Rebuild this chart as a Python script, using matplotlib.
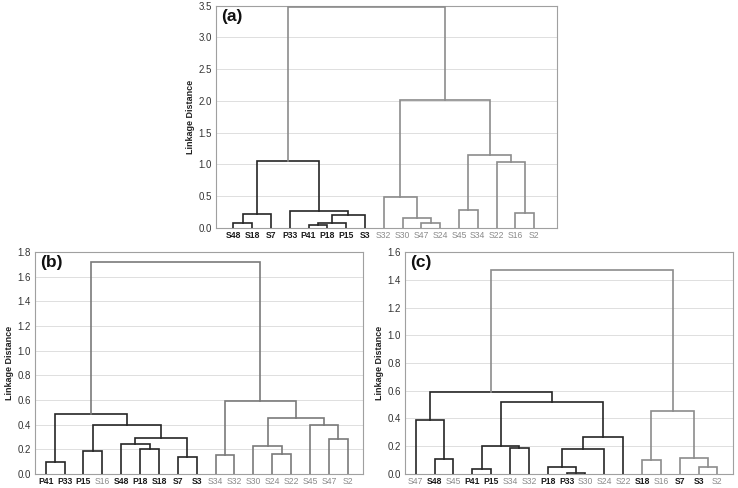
import matplotlib
matplotlib.use('Agg')
import matplotlib.pyplot as plt
import numpy as np

plt.rcParams['font.family'] = ['Liberation Sans', 'DejaVu Sans']

# ── Colours ──
DARK = '#262626'
GREY = '#8c8c8c'
GREY_B = '#7a7a7a'

# ── Panel (a) ──
leaves_a = ['S48', 'S18', 'S7', 'P33', 'P41', 'P18', 'P15', 'S3',
            'S32', 'S30', 'S47', 'S24', 'S45', 'S34', 'S22', 'S16', 'S2']
bold_a = ['S48', 'S18', 'S7', 'P33', 'P41', 'P18', 'P15', 'S3']
# (child, child, height, group) ; int child = earlier merge index
merges_a = [
    ('S48', 'S18', 0.07, 'k'),
    (0, 'S7', 0.22, 'k'),
    ('P41', 'P18', 0.035, 'k'),
    (2, 'P15', 0.08, 'k'),
    (3, 'S3', 0.20, 'k'),
    ('P33', 4, 0.26, 'k'),
    (1, 5, 1.05, 'k'),
    ('S47', 'S24', 0.08, 'g'),
    ('S30', 7, 0.16, 'g'),
    ('S32', 8, 0.48, 'g'),
    ('S45', 'S34', 0.28, 'g'),
    ('S16', 'S2', 0.23, 'g'),
    ('S22', 11, 1.03, 'g'),
    (10, 12, 1.14, 'g'),
    (9, 13, 2.02, 'g'),
    (6, 14, 3.48, 'g'),
]
yticks_a = [0.0, 0.5, 1.0, 1.5, 2.0, 2.5, 3.0, 3.5]

# ── Panel (b) ──
leaves_b = ['P41', 'P33', 'P15', 'S16', 'S48', 'P18', 'S18', 'S7', 'S3',
            'S34', 'S32', 'S30', 'S24', 'S22', 'S45', 'S47', 'S2']
bold_b = ['P41', 'P33', 'P15', 'S48', 'P18', 'S18', 'S7', 'S3']
merges_b = [
    ('P41', 'P33', 0.10, 'k'),
    ('P15', 'S16', 0.19, 'k'),
    ('P18', 'S18', 0.20, 'k'),
    ('S48', 2, 0.24, 'k'),
    ('S7', 'S3', 0.14, 'k'),
    (3, 4, 0.29, 'k'),
    (1, 5, 0.40, 'k'),
    (0, 6, 0.49, 'k'),
    ('S34', 'S32', 0.15, 'g'),
    ('S24', 'S22', 0.16, 'g'),
    ('S30', 9, 0.225, 'g'),
    ('S47', 'S2', 0.28, 'g'),
    ('S45', 11, 0.395, 'g'),
    (10, 12, 0.455, 'g'),
    (8, 13, 0.59, 'g'),
    (7, 14, 1.715, 'g'),
]
yticks_b = [0.0, 0.2, 0.4, 0.6, 0.8, 1.0, 1.2, 1.4, 1.6, 1.8]

# ── Panel (c) ──
leaves_c = ['S47', 'S48', 'S45', 'P41', 'P15', 'S34', 'S32', 'P18', 'P33',
            'S30', 'S24', 'S22', 'S18', 'S16', 'S7', 'S3', 'S2']
bold_c = ['S48', 'P41', 'P15', 'P18', 'P33', 'S18', 'S7', 'S3']
merges_c = [
    ('S48', 'S45', 0.105, 'k'),
    ('S47', 0, 0.39, 'k'),
    ('P41', 'P15', 0.033, 'k'),
    ('S34', 'S32', 0.19, 'k'),
    (2, 3, 0.205, 'k'),
    ('P33', 'S30', 0.005, 'k'),
    ('P18', 5, 0.048, 'k'),
    (6, 'S24', 0.182, 'k'),
    (7, 'S22', 0.27, 'k'),
    (4, 8, 0.52, 'k'),
    (1, 9, 0.593, 'k'),
    ('S18', 'S16', 0.098, 'g'),
    ('S3', 'S2', 0.048, 'g'),
    ('S7', 12, 0.118, 'g'),
    (11, 13, 0.455, 'g'),
    (10, 14, 1.467, 'g'),
]
yticks_c = [0.0, 0.2, 0.4, 0.6, 0.8, 1.0, 1.2, 1.4, 1.6]


def draw_dendro(ax, leaves, bold, merges, yticks, grey, label, xlim):
    pos = {name: (i + 1, 0.0) for i, name in enumerate(leaves)}
    nodes = []
    for a, b, h, grp in merges:
        xa, ha = nodes[a] if isinstance(a, int) else pos[a]
        xb, hb = nodes[b] if isinstance(b, int) else pos[b]
        col = DARK if grp == 'k' else grey
        ax.plot([xa, xa, xb, xb], [ha, h, h, hb], color=col, lw=1.2,
                solid_joinstyle='miter', zorder=3)
        nodes.append(((xa + xb) / 2, h))

    ax.set_xlim(*xlim)
    ax.set_ylim(yticks[0], yticks[-1])
    ax.set_yticks(yticks)
    ax.set_yticklabels([f'{t:.1f}' for t in yticks])
    ax.yaxis.grid(True, color='#dedede', lw=0.7)
    ax.set_axisbelow(True)
    ax.set_xticks(np.arange(1, len(leaves) + 1))
    ax.set_xticklabels(leaves)
    for t, name in zip(ax.get_xticklabels(), leaves):
        if name in bold:
            t.set_fontweight('bold')
            t.set_color('#1a1a1a')
        else:
            t.set_color('#8a8a8a')
    ax.tick_params(axis='x', length=0, pad=2.5, labelsize=6.2)
    ax.tick_params(axis='y', length=0, pad=3, labelsize=7, labelcolor='#333333')
    for s in ax.spines.values():
        s.set_color('#a0a0a0')
        s.set_linewidth(0.8)
    ax.set_ylabel('Linkage Distance', fontsize=6.5, fontweight='bold',
                  color='#222222', labelpad=2.5)
    ax.text(0.015, 0.985, label, transform=ax.transAxes, ha='left', va='top',
            fontsize=12.5, fontweight='bold', color='#111111')


fig = plt.figure(figsize=(7.38, 4.88), dpi=100)
fig.patch.set_facecolor('white')

ax_a = fig.add_axes([0.2927, 0.5334, 0.4617, 0.4549])
ax_b = fig.add_axes([0.0474, 0.0287, 0.4445, 0.4549])
ax_c = fig.add_axes([0.5488, 0.0287, 0.4440, 0.4549])

draw_dendro(ax_a, leaves_a, bold_a, merges_a, yticks_a, GREY, '(a)', (0.08, 18.2))
draw_dendro(ax_b, leaves_b, bold_b, merges_b, yticks_b, GREY_B, '(b)', (0.43, 17.81))
draw_dendro(ax_c, leaves_c, bold_c, merges_c, yticks_c, GREY, '(c)', (0.43, 17.81))

fig.savefig('out.png', dpi=100, facecolor='white')
plt.close()
